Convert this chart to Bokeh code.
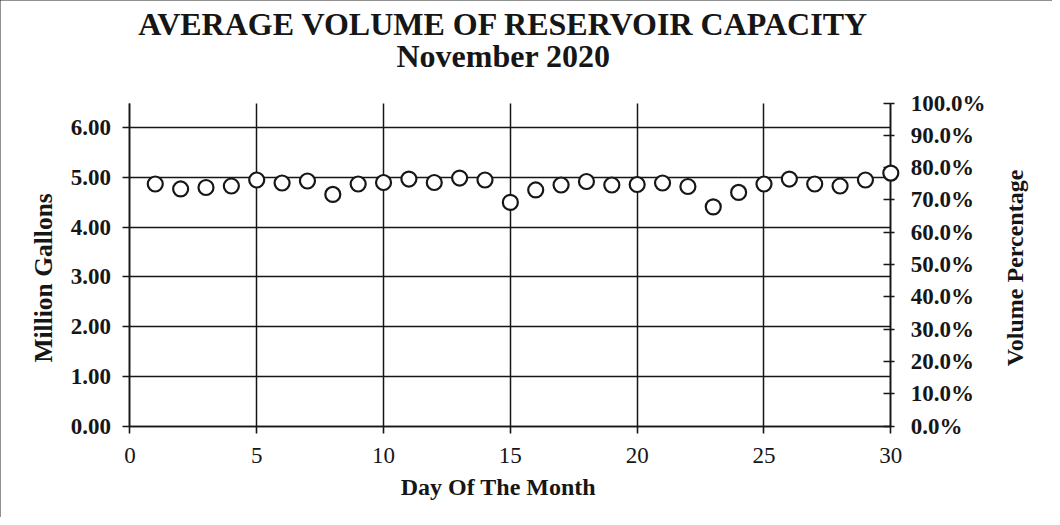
import math
from bokeh.plotting import figure
from bokeh.models import (Range1d, LinearAxis, FixedTicker, NumeralTickFormatter,
                          ColumnDataSource, Grid, Label)
from bokeh.embed import file_html
from bokeh.resources import INLINE

# ---------------- data ----------------
days = list(range(1, 31))
volume_mg = [4.87, 4.77, 4.80, 4.83, 4.95, 4.89, 4.93, 4.66, 4.87, 4.90,
             4.97, 4.90, 4.99, 4.95, 4.50, 4.75, 4.85, 4.92, 4.85, 4.86,
             4.89, 4.82, 4.41, 4.70, 4.87, 4.97, 4.87, 4.83, 4.95, 5.09]
x_ticks = [0, 5, 10, 15, 20, 25, 30]
y_ticks = [0, 1, 2, 3, 4, 5, 6]
pct_ticks = [0.0, 0.1, 0.2, 0.3, 0.4, 0.5, 0.6, 0.7, 0.8, 0.9, 1.0]
title_lines = ["AVERAGE VOLUME OF RESERVOIR CAPACITY", "November 2020"]
x_label = "Day Of The Month"
y_label = "Million Gallons"
y2_label = "Volume Percentage"

SERIF = "Liberation Serif"
INK = "#161616"
X_MIN, X_MAX = 0, 30        # axis extent (days)
Y_MIN, Y_MAX = 0, 6.5       # axis extent (million gallons); 6.5 MG == 100 %

# The frame covers the whole canvas so that every text can live inside it;
# the ranges are chosen so the axes sit where the original chart has them.
W, H = 1052, 517
PX_X0, PX_X1 = 129.4, 890.3   # canvas x of day 0 / day 30
PX_Y0, PX_Y1 = 425.5, 102.5   # canvas y (from top) of 0 / 6.5
kx = (X_MAX - X_MIN) / (PX_X1 - PX_X0)
ky = (Y_MAX - Y_MIN) / (PX_Y0 - PX_Y1)
xr = Range1d(X_MIN - PX_X0 * kx, X_MAX + (W - PX_X1) * kx)
yr = Range1d(Y_MIN - (H - PX_Y0) * ky, Y_MAX + PX_Y1 * ky)

p = figure(width=W, height=H, output_backend="svg", toolbar_location=None,
           x_range=xr, y_range=yr, x_axis_location=None, y_axis_location=None,
           min_border=0)
p.min_border_left = p.min_border_right = p.min_border_top = p.min_border_bottom = 0
p.title = None
p.outline_line_color = None
p.background_fill_color = "white"
p.border_fill_color = "white"
p.styles = {"outline": "2px solid #222", "outline-offset": "-2px"}
# drop the automatic grids; explicit ones are added below
p.center = [r for r in p.center if not isinstance(r, Grid)]
p.renderers = [r for r in p.renderers if not isinstance(r, Grid)]

def style_axis(ax, bold=True):
    ax.axis_line_color = INK
    ax.axis_line_width = 1.6
    ax.major_tick_line_color = INK
    ax.major_tick_line_width = 1.6
    ax.minor_tick_line_color = None
    ax.major_label_text_font = SERIF
    ax.major_label_text_font_style = "bold" if bold else "normal"
    ax.major_label_text_font_size = "23px"
    ax.major_label_text_color = INK

# ---- bottom axis ----
xa = LinearAxis(ticker=FixedTicker(ticks=x_ticks), fixed_location=Y_MIN,
                bounds=(X_MIN, X_MAX))
style_axis(xa, bold=False)
xa.major_tick_in = 0
xa.major_tick_out = 7
xa.major_label_standoff = 15
p.add_layout(xa, "below")

# ---- left axis ----
ya = LinearAxis(ticker=FixedTicker(ticks=y_ticks), fixed_location=X_MIN,
                bounds=(Y_MIN, Y_MAX), formatter=NumeralTickFormatter(format="0.00"))
style_axis(ya)
ya.major_tick_in = 0
ya.major_tick_out = 7
ya.major_label_standoff = 12
p.add_layout(ya, "left")

# ---- right axis (percentage of capacity) ----
p.extra_y_ranges = {"pct": Range1d(yr.start / Y_MAX, yr.end / Y_MAX)}
ra = LinearAxis(y_range_name="pct", ticker=FixedTicker(ticks=pct_ticks),
                fixed_location=X_MAX, bounds=(0, 1),
                formatter=NumeralTickFormatter(format="0.0%"))
style_axis(ra)
ra.major_tick_in = 7
ra.major_tick_out = 4
ra.major_label_standoff = 16
p.add_layout(ra, "right")

# ---- grids ----
xg = Grid(dimension=0, ticker=FixedTicker(ticks=x_ticks))
yg = Grid(dimension=1, ticker=FixedTicker(ticks=y_ticks))
for g in (xg, yg):
    g.grid_line_color = INK
    g.grid_line_width = 1.5
xg.bounds = (X_MIN, X_MAX)
yg.bounds = (Y_MIN, Y_MAX)
if "cross_bounds" in Grid.properties():
    xg.cross_bounds = (Y_MIN, Y_MAX)
    yg.cross_bounds = (X_MIN, X_MAX)
p.add_layout(xg)
p.add_layout(yg)

# ---- data ----
src = ColumnDataSource(data=dict(day=days, vol=volume_mg))
p.scatter("day", "vol", source=src, size=15, marker="circle", level="overlay",
          fill_color="white", line_color=INK, line_width=2.2)

# ---- texts (positions in data units of the frame) ----
def add_text(text, x, y, size, angle=0.0):
    p.add_layout(Label(x=x, y=y, text=text, angle=angle, text_font=SERIF,
                       text_font_size=size, text_font_style="bold", text_color=INK,
                       text_align="center", text_baseline="alphabetic"))

add_text(title_lines[0], 14.73, 8.08, "32px")
add_text(title_lines[1], 14.73, 7.455, "32px")
add_text(x_label, 14.53, -1.22, "24px")
add_text(y_label, -3.40, 2.98, "25.5px", angle=math.pi / 2)
add_text(y2_label, 34.90, 3.18, "24px", angle=math.pi / 2)

open("out.html", "w").write(file_html(p, INLINE))
